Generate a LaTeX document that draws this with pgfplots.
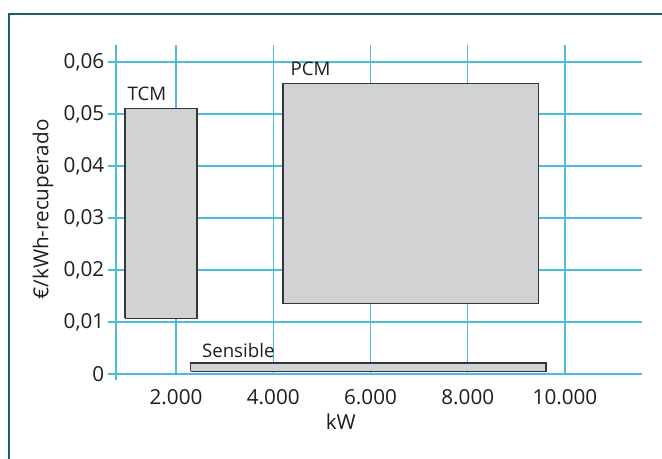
\documentclass[border=0pt]{standalone}
\usepackage{pgfplots}
\pgfplotsset{compat=1.18}
\usepackage{fontspec}
\setmainfont{Open Sans}
\definecolor{gridc}{HTML}{4DBDD5}
\definecolor{framec}{HTML}{1D5C6C}
\definecolor{barfill}{HTML}{D1D2D4}
\definecolor{bardraw}{HTML}{363636}
\definecolor{txt}{HTML}{1E1E1E}
\begin{document}
\begin{tikzpicture}
\path[use as bounding box] (0pt,0pt) rectangle (496.5pt,344.25pt);
\draw[framec, line width=1.2pt] (6.75pt,0pt) -- (6.75pt,333.75pt) -- (496.5pt,333.75pt);
\begin{axis}[
  at={(87pt,63.75pt)}, anchor=south west,
  width=388.5pt, height=246.75pt, scale only axis,
  xmin=766, xmax=11419, ymin=0, ymax=0.06327,
  scaled ticks=false,
  axis line style={draw=none},
  xtick={2000,4000,6000,8000,10000},
  xticklabels={2.000,4.000,6.000,8.000,10.000},
  ytick={0,0.01,0.02,0.03,0.04,0.05,0.06},
  yticklabels={0,{0,01},{0,02},{0,03},{0,04},{0,05},{0,06}},
  tick align=outside,
  xtick style={draw=none},
  ytick style={gridc, line width=1.1pt, /pgfplots/major tick length=6pt},
  grid=major,
  major grid style={gridc, line width=1.1pt},
  tick label style={font=\fontsize{15.5}{18}\selectfont, text=txt},
  yticklabel style={xshift=-1pt},
  xticklabel style={yshift=-4pt},
  xlabel={kW}, ylabel={€/kWh-recuperado},
  label style={font=\fontsize{15.5}{18}\selectfont, text=txt},
  xlabel style={at={(axis description cs:0.434,-0.146)}, anchor=center},
  ylabel style={at={(axis description cs:-0.141,0.5)}, anchor=center},
  clip=false,
]
% axis lines
\draw[gridc, line width=2.2pt] (axis cs:766,0) -- (axis cs:11419,0);
\draw[gridc, line width=2.2pt] (axis cs:766,-0.0012) -- (axis cs:766,0.06327);
% TCM
\addplot[fill=barfill, draw=bardraw, line width=0.9pt, line join=miter]
  coordinates {(950,0.0107) (2430,0.0107) (2430,0.0510) (950,0.0510) (950,0.0107)};
% PCM
\addplot[fill=barfill, draw=bardraw, line width=0.9pt, line join=miter]
  coordinates {(4200,0.0135) (9460,0.0135) (9460,0.0558) (4200,0.0558) (4200,0.0135)};
% Sensible
\addplot[fill=barfill, draw=bardraw, line width=0.9pt, line join=miter]
  coordinates {(2300,0.0005) (9610,0.0005) (9610,0.0021) (2300,0.0021) (2300,0.0005)};
\node[anchor=south west, inner sep=0pt, text=txt, font=\fontsize{14}{16}\selectfont] at (axis cs:1000,0.0525) {TCM};
\node[anchor=south west, inner sep=0pt, text=txt, font=\fontsize{14}{16}\selectfont] at (axis cs:4350,0.0573) {PCM};
\node[anchor=south west, inner sep=0pt, text=txt, font=\fontsize{14}{16}\selectfont] at (axis cs:2530,0.0030) {Sensible};
\end{axis}
\end{tikzpicture}
\end{document}
